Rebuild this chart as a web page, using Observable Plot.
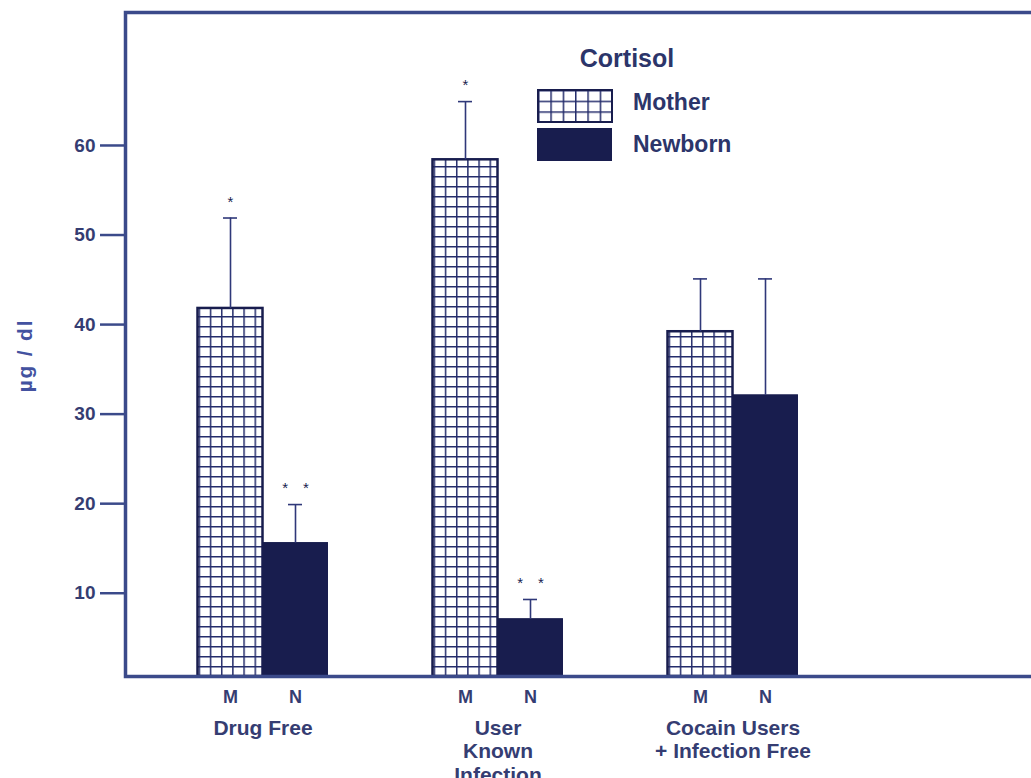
<!DOCTYPE html>
<html><head><meta charset="utf-8">
<script src="https://cdn.jsdelivr.net/npm/d3@7"></script>
<script src="https://cdn.jsdelivr.net/npm/@observablehq/plot@0.6"></script>
<style>
html,body{margin:0;padding:0;background:#fff;overflow:hidden;width:1031px;height:778px}
#chart{position:relative;width:1031px;height:778px;overflow:hidden}
#chart svg{max-width:none !important;width:1060px !important;height:778px !important;display:block}
</style></head><body><div id="chart"></div>
<script>
// ---- data ----
const groups = ["Drug Free", "User Known Infection", "Cocain Users + Infection Free"];
const groupLabels = ["Drug Free", "User\nKnown\nInfection", "Cocain Users\n+ Infection Free"];
const subLabels = ["M", "N"];
const motherMean = [41.8, 58.4, 39.2];
const motherErr = [10.1, 6.5, 5.9];
const newbornMean = [15.6, 7.1, 32.1];
const newbornErr = [4.3, 2.2, 13.0];
const motherSig = ["*", "*", ""];
const newbornSig = ["*\u2003*", "*\u2003*", ""];
const yTicks = [10, 20, 30, 40, 50, 60];
const yLabel = "µg / dl";
const legendTitle = "Cortisol";
const seriesNames = ["Mother", "Newborn"];

// ---- style ----
const NAVY = "#181d4e";
const AXIS = "#3b4a8a";
const TEXT = "#353d72";
const FONT = "'Liberation Sans', Arial, Helvetica, sans-serif";
const yFloor = 0.7;

const rows = groups.map((g, i) => ({
  group: g, label: groupLabels[i],
  mother: motherMean[i], motherUp: motherMean[i] + motherErr[i],
  newborn: newbornMean[i], newbornUp: newbornMean[i] + newbornErr[i],
  mSig: motherSig[i], nSig: newbornSig[i]
}));

const half = 32.5; // half bar width offset
const chart = Plot.plot({
  width: 1060, height: 778,
  marginLeft: 125, marginRight: 0, marginTop: 12, marginBottom: 102,
  style: {fontFamily: FONT, fontWeight: "bold", background: "transparent", color: TEXT, overflow: "visible"},
  x: {type: "band", domain: groups, range: [145, 850], padding: 0, round: false, axis: null},
  y: {domain: [yFloor, 74.85]},
  marks: [
    Plot.axisY({ticks: yTicks, tickSize: 25, tickPadding: 5, stroke: AXIS, strokeWidth: 2.5, fill: TEXT, fontSize: 19, fontWeight: "bold", label: null}),
    Plot.text([yLabel], {frameAnchor: "left", textAnchor: "middle", rotate: -90, dx: -100, dy: 11, fontSize: 21, fontWeight: "bold", fill: "#4352a0"}),
    // bars
    Plot.barY(rows, {x: "group", y1: yFloor, y2: "mother", fill: "url(#momGrid)", stroke: NAVY, strokeWidth: 2.5, insetLeft: 85, insetRight: 85, dx: -half}),
    Plot.barY(rows, {x: "group", y1: yFloor, y2: "newborn", fill: NAVY, stroke: NAVY, strokeWidth: 1, insetLeft: 85, insetRight: 85, dx: half}),
    // error bars
    Plot.ruleX(rows, {x: "group", y1: "mother", y2: "motherUp", stroke: "#2f3879", strokeWidth: 1.6, dx: -half}),
    Plot.ruleX(rows, {x: "group", y1: "newborn", y2: "newbornUp", stroke: "#2f3879", strokeWidth: 1.6, dx: half}),
    Plot.tickY(rows, {x: "group", y: "motherUp", stroke: "#2f3879", strokeWidth: 1.6, insetLeft: 110.5, insetRight: 110.5, dx: -half}),
    Plot.tickY(rows, {x: "group", y: "newbornUp", stroke: "#2f3879", strokeWidth: 1.6, insetLeft: 110.5, insetRight: 110.5, dx: half}),
    // significance stars
    Plot.text(rows, {x: "group", y: "motherUp", text: "mSig", dx: -half, dy: -16, fontSize: 15, fontWeight: "normal", fill: NAVY}),
    Plot.text(rows, {x: "group", y: "newbornUp", text: "nSig", dx: half, dy: -16, fontSize: 15, fontWeight: "normal", fill: NAVY}),
    // category labels
    Plot.text(rows, {x: "group", text: () => subLabels[0], frameAnchor: "bottom", lineAnchor: "middle", dy: 21, dx: -half, fontSize: 18, fontWeight: "bold", fill: TEXT}),
    Plot.text(rows, {x: "group", text: () => subLabels[1], frameAnchor: "bottom", lineAnchor: "middle", dy: 21, dx: half, fontSize: 18, fontWeight: "bold", fill: TEXT}),
    Plot.text(rows, {x: "group", text: "label", frameAnchor: "bottom", lineAnchor: "top", dy: 41, fontSize: 21, lineHeight: 1.14, fontWeight: "bold", fill: TEXT}),
    Plot.frame({stroke: AXIS, strokeWidth: 3.5})
  ]
});

const svgEl = chart.tagName.toLowerCase() === "svg" ? chart : chart.querySelector("svg");
const svg = d3.select(svgEl);
svg.selectAll("text").filter(function() { return this.textContent === yLabel; }).attr("letter-spacing", "1.8px");
const defs = svg.insert("defs", ":first-child");
function grid(id, x, y, w, h) {
  const p = defs.append("pattern").attr("id", id).attr("patternUnits", "userSpaceOnUse")
    .attr("x", x).attr("y", y).attr("width", w).attr("height", h);
  p.append("rect").attr("width", w).attr("height", h).attr("fill", "#fff");
  p.append("path").attr("d", `M0,0.75H${w}M0.75,0V${h}`).attr("stroke", "#242c6b").attr("stroke-width", 1.5).attr("fill", "none");
}
grid("momGrid", 197.5, 676, 235 / 21, 10);
grid("legGrid", 538, 90, 74 / 6, 32 / 3);

// legend
const lg = svg.append("g").attr("font-family", FONT).attr("font-weight", "bold").attr("fill", "#2c356a").attr("text-anchor", "start");
lg.append("text").attr("x", 627).attr("y", 67).attr("text-anchor", "middle").attr("font-size", 25).text(legendTitle);
lg.append("rect").attr("x", 538).attr("y", 90).attr("width", 74).attr("height", 32).attr("fill", "url(#legGrid)").attr("stroke", NAVY).attr("stroke-width", 2);
lg.append("rect").attr("x", 537).attr("y", 128).attr("width", 75).attr("height", 33).attr("fill", NAVY);
lg.append("text").attr("x", 633).attr("y", 110).attr("font-size", 23).text(seriesNames[0]);
lg.append("text").attr("x", 633).attr("y", 152).attr("font-size", 23).text(seriesNames[1]);

document.getElementById("chart").appendChild(chart);
</script></body></html>
